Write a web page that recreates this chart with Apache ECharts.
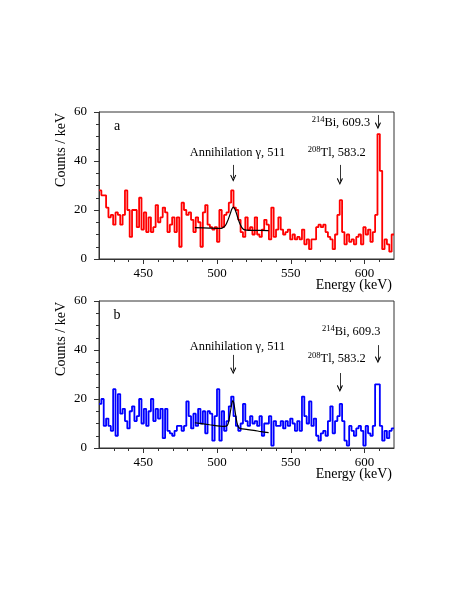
<!DOCTYPE html>
<html>
<head>
<meta charset="utf-8">
<script src="https://cdn.jsdelivr.net/npm/echarts@6/dist/echarts.min.js"></script>
<style>
  html, body { margin: 0; padding: 0; background: #fff; }
  #chart { width: 463px; height: 599px; }
</style>
</head>
<body>
<div id="chart"></div>
<script>
// histogram binning (keV)
const binStart = 420;
const binWidth = 1.6;

// panel a: counts / keV per bin
const countsA = [
  28, 26, 26, 21, 17, 18, 14, 19, 18, 14,
  18, 28, 20, 9, 20, 20, 13, 25, 12, 19,
  11, 17, 11, 13, 22, 15, 17, 21, 19, 11,
  14, 17, 11, 17, 5, 23, 20, 18, 19, 16,
  11, 17, 15, 5, 19, 22, 14, 13, 12, 13,
  7, 20, 13, 18, 19, 23, 28, 21, 20, 16,
  11, 9, 17, 12, 13, 10, 17, 10, 9, 12,
  16, 14, 8, 21, 9, 12, 17, 12, 10, 11,
  12, 8, 10, 8, 9, 8, 12, 6, 8, 4,
  8, 8, 13, 14, 13, 14, 11, 9, 8, 4,
  10, 18, 24, 11, 6, 10, 7, 8, 6, 9,
  10, 6, 13, 10, 12, 7, 11, 18, 51, 36,
  4, 8, 6, 3, 10
];

// panel b: counts / keV per bin
const countsB = [
  18, 20, 9, 12, 9, 7, 24, 5, 22, 14,
  16, 11, 8, 15, 17, 11, 13, 20, 10, 16,
  9, 15, 20, 11, 16, 12, 16, 4, 16, 7,
  6, 5, 7, 9, 9, 7, 9, 19, 13, 8,
  14, 9, 16, 10, 15, 6, 15, 14, 3, 13,
  24, 3, 15, 7, 11, 17, 21, 13, 9, 7,
  10, 18, 11, 9, 13, 10, 11, 9, 13, 5,
  10, 10, 13, 1, 11, 9, 9, 11, 8, 11,
  9, 12, 10, 7, 11, 7, 21, 13, 10, 19,
  9, 12, 5, 3, 6, 7, 5, 11, 17, 6,
  11, 13, 18, 11, 3, 1, 9, 7, 5, 8,
  9, 7, 1, 9, 6, 5, 9, 26, 26, 9,
  3, 7, 4, 7, 8
];

// fitted curves (gaussian + background)
const fitEnergyA = [485, 495, 503, 505, 506, 507, 508, 509, 510, 511, 512, 513, 514, 515, 516, 517, 518, 520, 525, 535];
const fitA = [12.8, 12.6, 12.5, 13.2, 14, 15.3, 16.8, 18.5, 20.3, 21.2, 20.5, 19, 17, 15.2, 13.8, 12.7, 12.1, 11.8, 11.7, 11.6];
const fitEnergyB = [485, 495, 505, 507, 508, 509, 510, 510.7, 511.5, 512.5, 513.5, 514.5, 516, 520, 525, 530, 535];
const fitB = [10.3, 9.5, 8.8, 9.2, 11, 14.5, 18, 19.3, 18, 14, 10.5, 8.5, 7.9, 7.6, 7.2, 6.7, 6.3];

// axis ticks
const majorTicksX = [450, 500, 550, 600];
const minorTicksX = [430, 440, 460, 470, 480, 490, 510, 520, 530, 540, 560, 570, 580, 590, 610];

const FONT = "Liberation Serif";
const frameColor = "#333";

function stepData(counts) {
    const pts = counts.map((c, i) => [binStart + i * binWidth, c]);
    pts.push([binStart + counts.length * binWidth, counts[counts.length - 1]]);
    return pts;
}

function pairs(xs, ys) {
    return xs.map((x, i) => [x, ys[i]]);
}

// open arrow head
const arrowHead = "path://M0,0 L5,9 L3.6,10 L0,3.5 L-3.6,10 L-5,9 Z";

const richText = {
    n: {fontFamily: FONT, fontSize: 12.4, color: "#000", lineHeight: 15},
    sup: {fontFamily: FONT, fontSize: 8.5, color: "#000", lineHeight: 15, verticalAlign: "top", padding: [0, 0, 4, 0]},
    panel: {fontFamily: FONT, fontSize: 14, color: "#000"},
};

// annotations in data coordinates: [energy, counts]
const notesA = [
    {text: "{panel|a}", at: [432.2, 54.3]},
    {text: "{n|Annihilation γ, 511}", at: [513.9, 43.3]},
    {text: "{sup|208}{n|Tl, 583.2}", at: [581.2, 43.3]},
    {text: "{sup|214}{n|Bi, 609.3}", at: [584, 55.5]},
];
const arrowsA = [[511, 38.4, 33], [583.3, 38.4, 31.6], [609.1, 58.8, 54.4]];

const notesB = [
    {text: "{panel|b}", at: [432.2, 54.3]},
    {text: "{n|Annihilation γ, 511}", at: [513.9, 41.2]},
    {text: "{sup|214}{n|Bi, 609.3}", at: [591, 47.3]},
    {text: "{sup|208}{n|Tl, 583.2}", at: [581.2, 36.3]},
];
const arrowsB = [[511, 38, 31.5], [583.3, 30.6, 24.3], [609.1, 42, 36]];

function marks(notes, arrows) {
    return {
        markPoint: {
            silent: true,
            symbol: "rect",
            symbolSize: 0,
            itemStyle: {color: "transparent"},
            label: {show: true, position: "inside", rich: richText},
            data: notes.map(n => ({coord: n.at, label: {formatter: n.text}})),
        },
        markLine: {
            silent: true,
            animation: false,
            symbol: ["none", arrowHead],
            symbolSize: [6, 7],
            label: {show: false},
            lineStyle: {color: "#000", width: 0.8, type: "solid"},
            emphasis: {disabled: true},
            data: arrows.map(a => [{coord: [a[0], a[1]]}, {coord: [a[0], a[2]]}]),
        },
    };
}

function xAxes(gridIndex) {
    return [
        {
            type: "value", gridIndex, min: 420, max: 620, position: "bottom",
            axisLine: {show: true, lineStyle: {color: frameColor, width: 1}},
            axisTick: {show: true, length: 5, customValues: majorTicksX, lineStyle: {color: frameColor}},
            axisLabel: {customValues: majorTicksX, margin: 8, fontFamily: FONT, fontSize: 13, color: "#000"},
            splitLine: {show: false},
            name: "Energy (keV)",
            nameLocation: "end",
            nameGap: -2,
            nameMoveOverlap: false,
            nameTextStyle: {fontFamily: FONT, fontSize: 14, color: "#000", align: "right", verticalAlign: "top", padding: [19, 0, 0, 0]},
        },
        {
            type: "value", gridIndex, min: 420, max: 620, position: "bottom",
            axisLine: {show: false},
            axisTick: {show: true, length: 3, customValues: minorTicksX, lineStyle: {color: frameColor}},
            axisLabel: {show: false},
            splitLine: {show: false},
        },
    ];
}

function yAxis(gridIndex) {
    return {
        type: "value", gridIndex, min: 0, max: 60, interval: 20,
        axisLine: {show: true, lineStyle: {color: frameColor, width: 1}},
        axisTick: {show: true, length: 5, lineStyle: {color: frameColor}},
        minorTick: {show: true, splitNumber: 4, length: 3, lineStyle: {color: frameColor}},
        splitLine: {show: false},
        minorSplitLine: {show: false},
        axisLabel: {margin: 12, fontFamily: FONT, fontSize: 13, color: "#000"},
        name: "Counts / keV",
        nameLocation: "end",
        nameRotate: 90,
        nameGap: -1,
        nameMoveOverlap: false,
        nameTextStyle: {fontFamily: FONT, fontSize: 14, color: "#000", align: "right", verticalAlign: "bottom", padding: [0, 0, 31, 0]},
    };
}

const chart = echarts.init(document.getElementById("chart"), null, {renderer: "canvas"});

chart.setOption({
    animation: false,
    backgroundColor: "#fff",
    grid: [
        {left: 99, top: 112, width: 295, height: 147, show: true, borderColor: frameColor, borderWidth: 1},
        {left: 99, top: 301, width: 295, height: 147, show: true, borderColor: frameColor, borderWidth: 1},
    ],
    xAxis: [...xAxes(0), ...xAxes(1)],
    yAxis: [yAxis(0), yAxis(1)],
    series: [
        {
            type: "line", xAxisIndex: 0, yAxisIndex: 0, step: "end",
            data: stepData(countsA), showSymbol: false,
            lineStyle: {color: "#ff0000", width: 1.8}, itemStyle: {color: "#ff0000"},
            ...marks(notesA, arrowsA),
        },
        {
            type: "line", xAxisIndex: 0, yAxisIndex: 0, smooth: 0.3,
            data: pairs(fitEnergyA, fitA), showSymbol: false, z: 3,
            lineStyle: {color: "#000", width: 1.2}, itemStyle: {color: "#000"},
        },
        {
            type: "line", xAxisIndex: 2, yAxisIndex: 1, step: "end",
            data: stepData(countsB), showSymbol: false,
            lineStyle: {color: "#0000ff", width: 1.8}, itemStyle: {color: "#0000ff"},
            ...marks(notesB, arrowsB),
        },
        {
            type: "line", xAxisIndex: 2, yAxisIndex: 1, smooth: 0.3,
            data: pairs(fitEnergyB, fitB), showSymbol: false, z: 3,
            lineStyle: {color: "#000", width: 1.2}, itemStyle: {color: "#000"},
        },
    ],
});
</script>
</body>
</html>
